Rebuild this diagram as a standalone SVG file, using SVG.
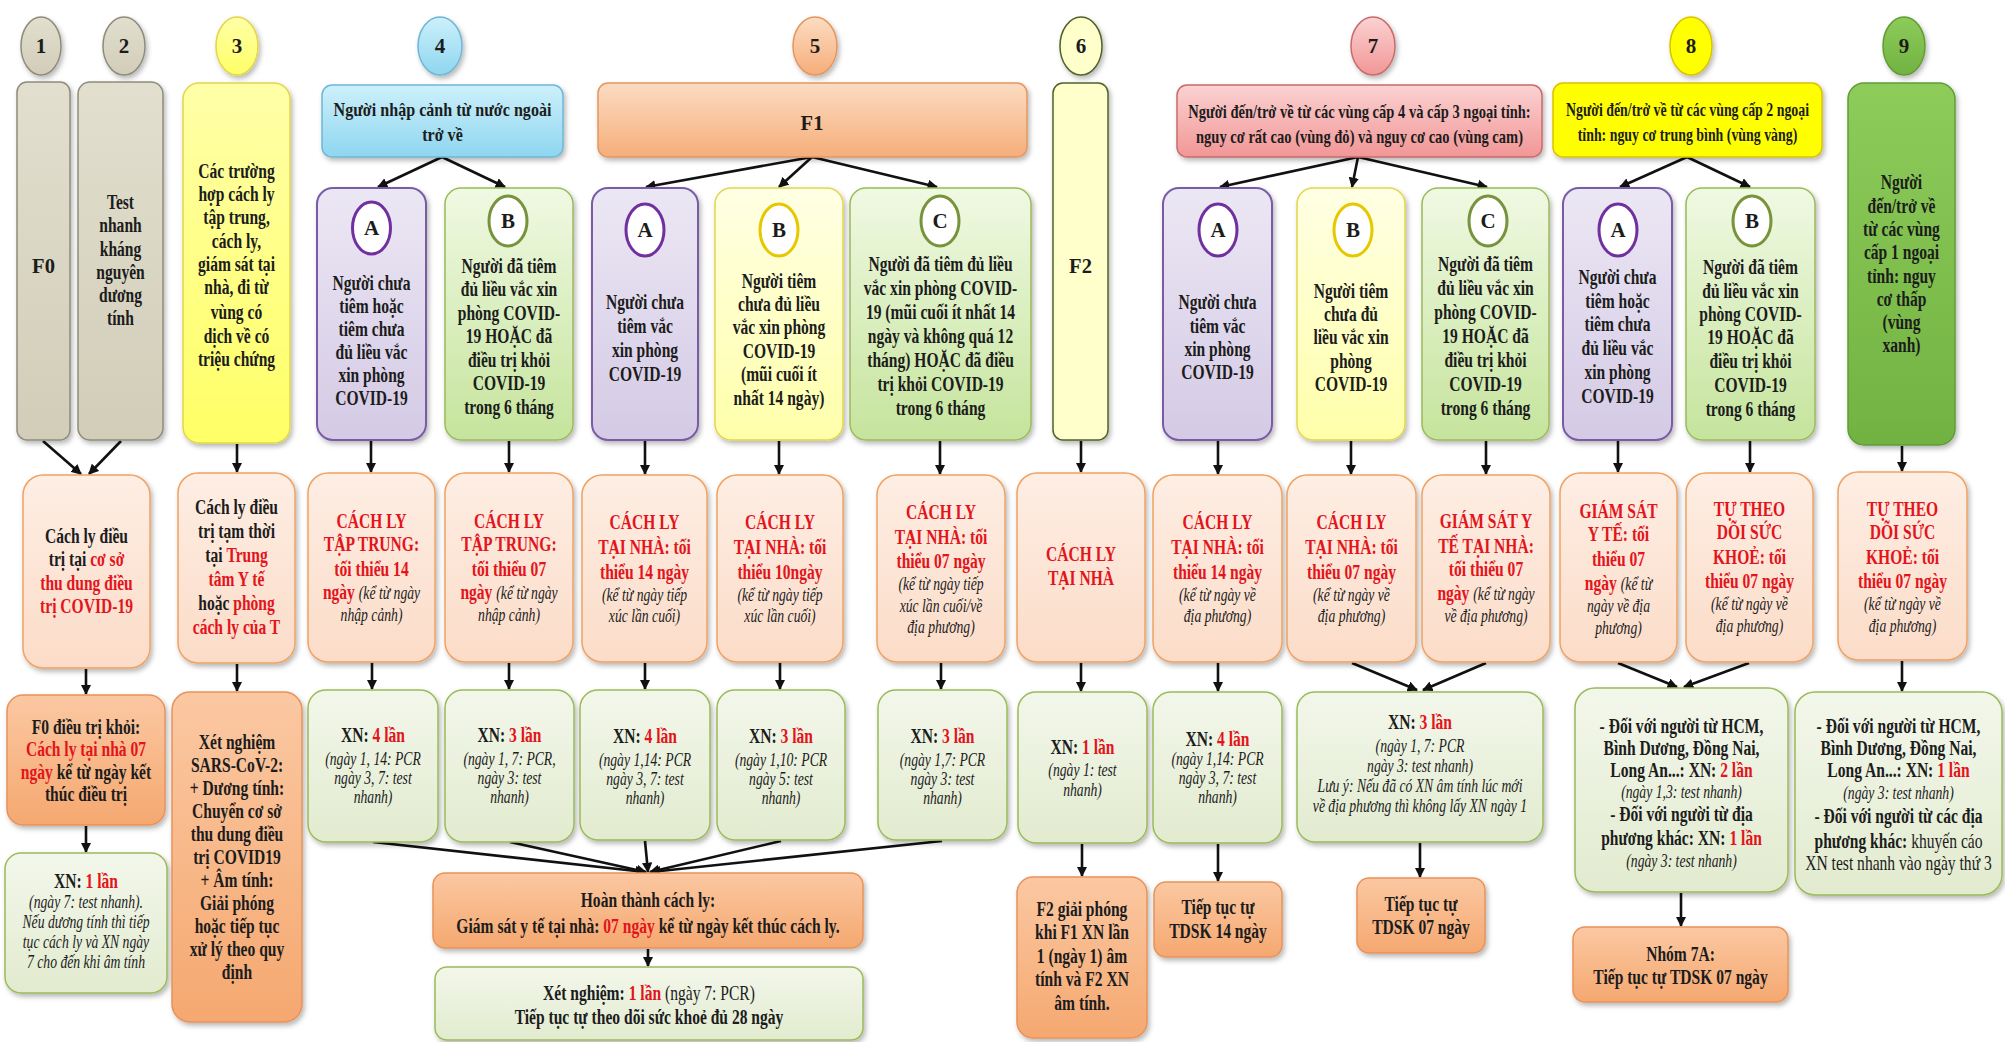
<svg xmlns="http://www.w3.org/2000/svg" width="2005" height="1042" viewBox="0 0 2005 1042">
<style>
.t{font-family:"Liberation Serif","Times New Roman",serif;font-weight:700;font-size:20.5px;fill:#1c1c1c;text-anchor:middle}
.i{font-style:italic;font-weight:400;font-size:18px}
.r{fill:#e3141b}
.n{font-weight:400}
.lt{font-size:21px}
.hd{font-size:18.5px}
.bx{filter:url(#sh)}
.gray{fill:url(#gGray);stroke:#8f8c7c;stroke-width:1.5}
.yel{fill:url(#gYel);stroke:#e2d64a;stroke-width:1.5}
.cyan{fill:url(#gCyan);stroke:#6fb6d6;stroke-width:1.5}
.orh{fill:url(#gOrh);stroke:#e3965e;stroke-width:1.5}
.f2{fill:#ffffcc;stroke:#4f6228;stroke-width:1.5}
.pink{fill:url(#gPink);stroke:#c96b6b;stroke-width:1.5}
.y8{fill:#ffff00;stroke:#d9c200;stroke-width:1.5}
.g9{fill:url(#gG9);stroke:#5f9d35;stroke-width:1.5}
.pu{fill:url(#gPu);stroke:#7a5ca6;stroke-width:2}
.lg{fill:url(#gLg);stroke:#9bbb59;stroke-width:1.5}
.ly{fill:url(#gLy);stroke:#e2d64a;stroke-width:1.5}
.pe{fill:url(#gPe);stroke:#f0a262;stroke-width:1.5}
.xn{fill:url(#gXn);stroke:#9bbb59;stroke-width:1.5}
.or{fill:url(#gOr);stroke:#e8925a;stroke-width:1.5}
.icp{fill:#fff;stroke:#7030a0;stroke-width:3}
.icg{fill:#fff;stroke:#77933c;stroke-width:3}
.icy{fill:#fff;stroke:#e6c800;stroke-width:3}
.cn{stroke:#111;stroke-width:2.6;fill:none;marker-end:url(#ah)}
</style>
<defs>
<marker id="ah" viewBox="0 0 10 10" refX="9" refY="5" markerWidth="4" markerHeight="4" orient="auto" markerUnits="strokeWidth"><path d="M0,0 L10,5 L0,10 z" fill="#111"/></marker>
<filter id="sh" x="-10%" y="-10%" width="130%" height="130%"><feDropShadow dx="2" dy="3" stdDeviation="2.5" flood-color="#000" flood-opacity="0.28"/></filter>
<linearGradient id="gGray" x1="0" y1="0" x2="0" y2="1"><stop offset="0" stop-color="#e2dfcf"/><stop offset="1" stop-color="#d1cdb8"/></linearGradient>
<linearGradient id="gYel" x1="0" y1="0" x2="0" y2="1"><stop offset="0" stop-color="#ffffa8"/><stop offset="1" stop-color="#ffff66"/></linearGradient>
<linearGradient id="gCyan" x1="0" y1="0" x2="0" y2="1"><stop offset="0" stop-color="#cdf0fb"/><stop offset="1" stop-color="#8ed6ef"/></linearGradient>
<linearGradient id="gOrh" x1="0" y1="0" x2="0" y2="1"><stop offset="0" stop-color="#fcdcc2"/><stop offset="1" stop-color="#f6ae7a"/></linearGradient>
<linearGradient id="gPink" x1="0" y1="0" x2="0" y2="1"><stop offset="0" stop-color="#fbd2d2"/><stop offset="1" stop-color="#f29696"/></linearGradient>
<linearGradient id="gG9" x1="0" y1="0" x2="0" y2="1"><stop offset="0" stop-color="#8dcc5a"/><stop offset="1" stop-color="#72b242"/></linearGradient>
<linearGradient id="gPu" x1="0" y1="0" x2="0" y2="1"><stop offset="0" stop-color="#ece7f4"/><stop offset="1" stop-color="#d4cae5"/></linearGradient>
<linearGradient id="gLg" x1="0" y1="0" x2="0" y2="1"><stop offset="0" stop-color="#f0f9e3"/><stop offset="1" stop-color="#c5e49c"/></linearGradient>
<linearGradient id="gLy" x1="0" y1="0" x2="0" y2="1"><stop offset="0" stop-color="#ffffe4"/><stop offset="1" stop-color="#ffffaa"/></linearGradient>
<linearGradient id="gPe" x1="0" y1="0" x2="0" y2="1"><stop offset="0" stop-color="#feeee4"/><stop offset="1" stop-color="#fbdcc8"/></linearGradient>
<linearGradient id="gXn" x1="0" y1="0" x2="0" y2="1"><stop offset="0" stop-color="#f3f7eb"/><stop offset="1" stop-color="#e2ebcf"/></linearGradient>
<linearGradient id="gOr" x1="0" y1="0" x2="0" y2="1"><stop offset="0" stop-color="#fbc8a2"/><stop offset="1" stop-color="#f5a870"/></linearGradient>
</defs>
<rect width="2005" height="1042" fill="#ffffff"/>

<g id="connectors">
<line class="cn" x1="442" y1="157" x2="378" y2="187"/>
<line class="cn" x1="442" y1="157" x2="505" y2="187"/>
<line class="cn" x1="812" y1="157" x2="646" y2="187"/>
<line class="cn" x1="812" y1="157" x2="779" y2="187"/>
<line class="cn" x1="812" y1="157" x2="937" y2="187"/>
<line class="cn" x1="1358" y1="157" x2="1220" y2="187"/>
<line class="cn" x1="1358" y1="157" x2="1352" y2="187"/>
<line class="cn" x1="1358" y1="157" x2="1487" y2="187"/>
<line class="cn" x1="1687" y1="157" x2="1620" y2="187"/>
<line class="cn" x1="1687" y1="157" x2="1750" y2="187"/>
<line class="cn" x1="43" y1="441" x2="81" y2="474"/>
<line class="cn" x1="121" y1="441" x2="89" y2="474"/>
<line class="cn" x1="237" y1="444" x2="237" y2="472"/>
<line class="cn" x1="371" y1="441" x2="371" y2="472"/>
<line class="cn" x1="509" y1="441" x2="509" y2="472"/>
<line class="cn" x1="645" y1="441" x2="645" y2="474"/>
<line class="cn" x1="779" y1="441" x2="779" y2="474"/>
<line class="cn" x1="940" y1="441" x2="940" y2="474"/>
<line class="cn" x1="1081" y1="441" x2="1081" y2="472"/>
<line class="cn" x1="1218" y1="441" x2="1218" y2="474"/>
<line class="cn" x1="1351" y1="441" x2="1351" y2="474"/>
<line class="cn" x1="1486" y1="441" x2="1486" y2="474"/>
<line class="cn" x1="1618" y1="441" x2="1618" y2="472"/>
<line class="cn" x1="1750" y1="441" x2="1750" y2="472"/>
<line class="cn" x1="1902" y1="446" x2="1902" y2="471"/>
<line class="cn" x1="86" y1="669" x2="86" y2="694"/>
<line class="cn" x1="237" y1="664" x2="237" y2="691"/>
<line class="cn" x1="372" y1="663" x2="372" y2="689"/>
<line class="cn" x1="509" y1="663" x2="509" y2="689"/>
<line class="cn" x1="645" y1="663" x2="645" y2="689"/>
<line class="cn" x1="780" y1="663" x2="780" y2="689"/>
<line class="cn" x1="941" y1="663" x2="941" y2="689"/>
<line class="cn" x1="1081" y1="663" x2="1081" y2="691"/>
<line class="cn" x1="1218" y1="663" x2="1218" y2="691"/>
<line class="cn" x1="1352" y1="663" x2="1417" y2="690"/>
<line class="cn" x1="1486" y1="663" x2="1423" y2="690"/>
<line class="cn" x1="1618" y1="663" x2="1677" y2="687"/>
<line class="cn" x1="1749" y1="663" x2="1684" y2="687"/>
<line class="cn" x1="1902" y1="661" x2="1902" y2="691"/>
<line class="cn" x1="86" y1="826" x2="86" y2="852"/>
<line class="cn" x1="373" y1="842" x2="645" y2="872"/>
<line class="cn" x1="510" y1="842" x2="646" y2="872"/>
<line class="cn" x1="645" y1="841" x2="648" y2="872"/>
<line class="cn" x1="781" y1="841" x2="650" y2="872"/>
<line class="cn" x1="942" y1="841" x2="651" y2="872"/>
<line class="cn" x1="648" y1="949" x2="648" y2="966"/>
<line class="cn" x1="1082" y1="844" x2="1082" y2="876"/>
<line class="cn" x1="1218" y1="844" x2="1218" y2="881"/>
<line class="cn" x1="1420" y1="843" x2="1420" y2="877"/>
<line class="cn" x1="1681" y1="893" x2="1681" y2="926"/>
</g>

<g id="num1"><ellipse class="bx gray" cx="41" cy="46" rx="20" ry="29"/><text class="t lt" x="41" y="53">1</text></g>
<g id="num2"><ellipse class="bx gray" cx="124" cy="46" rx="21" ry="29"/><text class="t lt" x="124" y="53">2</text></g>
<g id="num3"><ellipse class="bx yel" cx="237" cy="46" rx="21" ry="29"/><text class="t lt" x="237" y="53">3</text></g>
<g id="num4"><ellipse class="bx cyan" cx="440" cy="46" rx="22" ry="29"/><text class="t lt" x="440" y="53">4</text></g>
<g id="num5"><ellipse class="bx orh" cx="815" cy="46" rx="22" ry="29"/><text class="t lt" x="815" y="53">5</text></g>
<g id="num6"><ellipse class="bx f2" cx="1081" cy="46" rx="21" ry="29"/><text class="t lt" x="1081" y="53">6</text></g>
<g id="num7"><ellipse class="bx pink" cx="1373" cy="46" rx="22" ry="29"/><text class="t lt" x="1373" y="53">7</text></g>
<g id="num8"><ellipse class="bx y8" cx="1691" cy="46" rx="21" ry="29"/><text class="t lt" x="1691" y="53">8</text></g>
<g id="num9"><ellipse class="bx g9" cx="1904" cy="46" rx="21" ry="29"/><text class="t lt" x="1904" y="53">9</text></g>

<g id="n1"><rect class="bx gray" x="17" y="82" width="53" height="358" rx="10"/><text class="t" x="43.5" y="273">F0</text></g>
<g id="n2"><rect class="bx gray" x="78" y="82" width="85" height="358" rx="12"/>
<g class="t" transform="translate(120.5 0) scale(0.76 1)"><text x="0" y="209">Test</text><text x="0" y="232">nhanh</text><text x="0" y="256">kháng</text><text x="0" y="279">nguyên</text><text x="0" y="302">dương</text><text x="0" y="325">tính</text></g></g>
<g id="n3"><rect class="bx yel" x="183" y="83" width="107" height="360" rx="16"/>
<g class="t" transform="translate(236.5 0) scale(0.76 1)"><text x="0" y="178">Các trường</text><text x="0" y="201">hợp cách ly</text><text x="0" y="224">tập trung,</text><text x="0" y="248">cách ly,</text><text x="0" y="271">giám sát tại</text><text x="0" y="294">nhà, đi từ</text><text x="0" y="319">vùng có</text><text x="0" y="343">dịch về có</text><text x="0" y="366">triệu chứng</text></g></g>

<g id="h4"><rect class="bx cyan" x="322" y="85" width="241" height="72" rx="10"/>
<g class="t hd" transform="translate(442.5 0) scale(0.87 1)"><text x="0" y="116">Người nhập cảnh từ nước ngoài</text><text x="0" y="141">trở về</text></g></g>
<g id="n4a"><rect class="bx pu" x="317" y="188" width="109" height="252" rx="16"/><ellipse class="icp" cx="371.5" cy="228" rx="19" ry="26"/><text class="t lt" x="371.5" y="235">A</text>
<g class="t" transform="translate(371.5 0) scale(0.76 1)"><text x="0" y="290">Người chưa</text><text x="0" y="313">tiêm hoặc</text><text x="0" y="336">tiêm chưa</text><text x="0" y="359">đủ liều vắc</text><text x="0" y="382">xin phòng</text><text x="0" y="405">COVID-19</text></g></g>
<g id="n4b"><rect class="bx lg" x="445" y="188" width="128" height="252" rx="16"/><ellipse class="icg" cx="508" cy="221" rx="19" ry="25"/><text class="t lt" x="508" y="228">B</text>
<g class="t" transform="translate(509 0) scale(0.76 1)"><text x="0" y="273">Người đã tiêm</text><text x="0" y="296.5">đủ liều vắc xin</text><text x="0" y="320">phòng COVID-</text><text x="0" y="343.5">19 HOẶC đã</text><text x="0" y="367">điều trị khỏi</text><text x="0" y="390.5">COVID-19</text><text x="0" y="414">trong 6 tháng</text></g></g>

<g id="h5"><rect class="bx orh" x="598" y="83" width="429" height="74" rx="10"/><text class="t" x="812" y="130">F1</text></g>
<g id="n5a"><rect class="bx pu" x="592" y="188" width="106" height="252" rx="16"/><ellipse class="icp" cx="645" cy="230" rx="19" ry="26"/><text class="t lt" x="645" y="237">A</text>
<g class="t" transform="translate(645 0) scale(0.76 1)"><text x="0" y="309">Người chưa</text><text x="0" y="333">tiêm vắc</text><text x="0" y="357">xin phòng</text><text x="0" y="381">COVID-19</text></g></g>
<g id="n5b"><rect class="bx ly" x="715" y="188" width="128" height="252" rx="16"/><ellipse class="icy" cx="779" cy="230" rx="19" ry="26"/><text class="t lt" x="779" y="237">B</text>
<g class="t" transform="translate(779 0) scale(0.76 1)"><text x="0" y="288">Người tiêm</text><text x="0" y="311">chưa đủ liều</text><text x="0" y="334.5">vắc xin phòng</text><text x="0" y="358">COVID-19</text><text x="0" y="381.5">(mũi cuối ít</text><text x="0" y="405">nhất 14 ngày)</text></g></g>
<g id="n5c"><rect class="bx lg" x="850" y="188" width="181" height="252" rx="16"/><ellipse class="icg" cx="940" cy="221" rx="19" ry="25"/><text class="t lt" x="940" y="228">C</text>
<g class="t" transform="translate(940.5 0) scale(0.76 1)"><text x="0" y="271">Người đã tiêm đủ liều</text><text x="0" y="295">vắc xin phòng COVID-</text><text x="0" y="319">19 (mũi cuối ít nhất 14</text><text x="0" y="343">ngày và không quá 12</text><text x="0" y="367">tháng) HOẶC đã điều</text><text x="0" y="391">trị khỏi COVID-19</text><text x="0" y="415">trong 6 tháng</text></g></g>

<g id="n6"><rect class="bx f2" x="1053" y="83" width="55" height="357" rx="10"/><text class="t" x="1080.5" y="273">F2</text></g>

<g id="h7"><rect class="bx pink" x="1177" y="85" width="365" height="72" rx="10"/>
<g class="t hd" transform="translate(1359.5 0) scale(0.785 1)"><text x="0" y="118">Người đến/trở về từ các vùng cấp 4 và cấp 3 ngoại tỉnh:</text><text x="0" y="143">nguy cơ rất cao (vùng đỏ) và nguy cơ cao (vùng cam)</text></g></g>
<g id="n7a"><rect class="bx pu" x="1163" y="188" width="109" height="252" rx="16"/><ellipse class="icp" cx="1218" cy="230" rx="19" ry="26"/><text class="t lt" x="1218" y="237">A</text>
<g class="t" transform="translate(1217.5 0) scale(0.76 1)"><text x="0" y="309">Người chưa</text><text x="0" y="333">tiêm vắc</text><text x="0" y="356">xin phòng</text><text x="0" y="379">COVID-19</text></g></g>
<g id="n7b"><rect class="bx ly" x="1297" y="188" width="108" height="252" rx="16"/><ellipse class="icy" cx="1353" cy="230" rx="19" ry="26"/><text class="t lt" x="1353" y="237">B</text>
<g class="t" transform="translate(1351 0) scale(0.76 1)"><text x="0" y="298">Người tiêm</text><text x="0" y="321">chưa đủ</text><text x="0" y="344">liều vắc xin</text><text x="0" y="368">phòng</text><text x="0" y="391">COVID-19</text></g></g>
<g id="n7c"><rect class="bx lg" x="1422" y="188" width="127" height="252" rx="16"/><ellipse class="icg" cx="1488" cy="221" rx="19" ry="25"/><text class="t lt" x="1488" y="228">C</text>
<g class="t" transform="translate(1485.5 0) scale(0.76 1)"><text x="0" y="271">Người đã tiêm</text><text x="0" y="295">đủ liều vắc xin</text><text x="0" y="319">phòng COVID-</text><text x="0" y="343">19 HOẶC đã</text><text x="0" y="367">điều trị khỏi</text><text x="0" y="391">COVID-19</text><text x="0" y="415">trong 6 tháng</text></g></g>

<g id="h8"><rect class="bx y8" x="1553" y="83" width="269" height="74" rx="10"/>
<g class="t hd" transform="translate(1687.5 0) scale(0.75 1)"><text x="0" y="116">Người đến/trở về từ các vùng cấp 2 ngoại</text><text x="0" y="141">tỉnh: nguy cơ trung bình (vùng vàng)</text></g></g>
<g id="n8a"><rect class="bx pu" x="1563" y="188" width="109" height="252" rx="16"/><ellipse class="icp" cx="1618" cy="230" rx="19" ry="26"/><text class="t lt" x="1618" y="237">A</text>
<g class="t" transform="translate(1617.5 0) scale(0.76 1)"><text x="0" y="284">Người chưa</text><text x="0" y="308">tiêm hoặc</text><text x="0" y="331">tiêm chưa</text><text x="0" y="355">đủ liều vắc</text><text x="0" y="379">xin phòng</text><text x="0" y="403">COVID-19</text></g></g>
<g id="n8b"><rect class="bx lg" x="1686" y="188" width="129" height="252" rx="16"/><ellipse class="icg" cx="1752" cy="221" rx="19" ry="25"/><text class="t lt" x="1752" y="228">B</text>
<g class="t" transform="translate(1750.5 0) scale(0.76 1)"><text x="0" y="274">Người đã tiêm</text><text x="0" y="298">đủ liều vắc xin</text><text x="0" y="321">phòng COVID-</text><text x="0" y="344">19 HOẶC đã</text><text x="0" y="368">điều trị khỏi</text><text x="0" y="392">COVID-19</text><text x="0" y="416">trong 6 tháng</text></g></g>
<g id="n9"><rect class="bx g9" x="1848" y="83" width="107" height="362" rx="16"/>
<g class="t" transform="translate(1901.5 0) scale(0.76 1)"><text x="0" y="189">Người</text><text x="0" y="213">đến/trở về</text><text x="0" y="236">từ các vùng</text><text x="0" y="259">cấp 1 ngoại</text><text x="0" y="283">tỉnh: nguy</text><text x="0" y="306">cơ thấp</text><text x="0" y="329">(vùng</text><text x="0" y="352">xanh)</text></g></g>

<g id="r1"><rect class="bx pe" x="23" y="475" width="127" height="193" rx="20"/>
<g class="t" transform="translate(86.5 0) scale(0.76 1)"><text x="0" y="543">Cách ly điều</text><text x="0" y="566">trị tại <tspan class="r">cơ sở</tspan></text><text x="0" y="590" class="r">thu dung điều</text><text x="0" y="613" class="r">trị COVID-19</text></g></g>
<g id="r3"><rect class="bx pe" x="178" y="473" width="117" height="190" rx="20"/>
<g class="t" transform="translate(236.5 0) scale(0.76 1)"><text x="0" y="514">Cách ly điều</text><text x="0" y="538">trị tạm thời</text><text x="0" y="562">tại <tspan class="r">Trung</tspan></text><text x="0" y="586" class="r">tâm Y tế</text><text x="0" y="610">hoặc <tspan class="r">phòng</tspan></text><text x="0" y="634" class="r">cách ly của T</text></g></g>
<g id="r4a"><rect class="bx pe" x="308" y="473" width="127" height="189" rx="20"/>
<g class="t" transform="translate(371.5 0) scale(0.76 1)"><text x="0" y="528" class="r">CÁCH LY</text><text x="0" y="551" class="r">TẬP TRUNG:</text><text x="0" y="576" class="r">tối thiểu 14</text><text x="0" y="599"><tspan class="r">ngày</tspan> <tspan class="i">(kể từ ngày</tspan></text><text x="0" y="621" class="i">nhập cảnh)</text></g></g>
<g id="r4b"><rect class="bx pe" x="445" y="473" width="128" height="189" rx="20"/>
<g class="t" transform="translate(509 0) scale(0.76 1)"><text x="0" y="528" class="r">CÁCH LY</text><text x="0" y="551" class="r">TẬP TRUNG:</text><text x="0" y="576" class="r">tối thiểu 07</text><text x="0" y="599"><tspan class="r">ngày</tspan> <tspan class="i">(kể từ ngày</tspan></text><text x="0" y="621" class="i">nhập cảnh)</text></g></g>
<g id="r5a"><rect class="bx pe" x="582" y="475" width="125" height="187" rx="20"/>
<g class="t" transform="translate(644.5 0) scale(0.76 1)"><text x="0" y="529" class="r">CÁCH LY</text><text x="0" y="554" class="r">TẠI NHÀ: tối</text><text x="0" y="579" class="r">thiểu 14 ngày</text><text x="0" y="601" class="i">(kể từ ngày tiếp</text><text x="0" y="622" class="i">xúc lần cuối)</text></g></g>
<g id="r5b"><rect class="bx pe" x="717" y="475" width="126" height="187" rx="20"/>
<g class="t" transform="translate(780 0) scale(0.76 1)"><text x="0" y="529" class="r">CÁCH LY</text><text x="0" y="554" class="r">TẠI NHÀ: tối</text><text x="0" y="579" class="r">thiểu 10ngày</text><text x="0" y="601" class="i">(kể từ ngày tiếp</text><text x="0" y="622" class="i">xúc lần cuối)</text></g></g>
<g id="r5c"><rect class="bx pe" x="877" y="475" width="128" height="187" rx="20"/>
<g class="t" transform="translate(941 0) scale(0.76 1)"><text x="0" y="519" class="r">CÁCH LY</text><text x="0" y="544" class="r">TẠI NHÀ: tối</text><text x="0" y="568" class="r">thiểu 07 ngày</text><text x="0" y="590" class="i">(kể từ ngày tiếp</text><text x="0" y="612" class="i">xúc lần cuối/về</text><text x="0" y="633" class="i">địa phương)</text></g></g>
<g id="r6"><rect class="bx pe" x="1017" y="473" width="128" height="189" rx="20"/>
<g class="t" transform="translate(1081 0) scale(0.76 1)"><text x="0" y="561" class="r">CÁCH LY</text><text x="0" y="585" class="r">TẠI NHÀ</text></g></g>
<g id="r7a"><rect class="bx pe" x="1153" y="475" width="129" height="187" rx="20"/>
<g class="t" transform="translate(1217.5 0) scale(0.76 1)"><text x="0" y="529" class="r">CÁCH LY</text><text x="0" y="554" class="r">TẠI NHÀ: tối</text><text x="0" y="579" class="r">thiểu 14 ngày</text><text x="0" y="601" class="i">(kể từ ngày về</text><text x="0" y="622" class="i">địa phương)</text></g></g>
<g id="r7b"><rect class="bx pe" x="1287" y="475" width="129" height="187" rx="20"/>
<g class="t" transform="translate(1351.5 0) scale(0.76 1)"><text x="0" y="529" class="r">CÁCH LY</text><text x="0" y="554" class="r">TẠI NHÀ: tối</text><text x="0" y="579" class="r">thiểu 07 ngày</text><text x="0" y="601" class="i">(kể từ ngày về</text><text x="0" y="622" class="i">địa phương)</text></g></g>
<g id="r7c"><rect class="bx pe" x="1422" y="475" width="128" height="187" rx="20"/>
<g class="t" transform="translate(1486 0) scale(0.76 1)"><text x="0" y="528" class="r">GIÁM SÁT Y</text><text x="0" y="553" class="r">TẾ TẠI NHÀ:</text><text x="0" y="576" class="r">tối thiểu 07</text><text x="0" y="600"><tspan class="r">ngày</tspan> <tspan class="i">(kể từ ngày</tspan></text><text x="0" y="622" class="i">về địa phương)</text></g></g>
<g id="r8a"><rect class="bx pe" x="1560" y="473" width="117" height="189" rx="20"/>
<g class="t" transform="translate(1618.5 0) scale(0.76 1)"><text x="0" y="518" class="r">GIÁM SÁT</text><text x="0" y="541" class="r">Y TẾ:  tối</text><text x="0" y="566" class="r">thiểu 07</text><text x="0" y="590"><tspan class="r">ngày</tspan> <tspan class="i">(kể từ</tspan></text><text x="0" y="612" class="i">ngày về địa</text><text x="0" y="634" class="i">phương)</text></g></g>
<g id="r8b"><rect class="bx pe" x="1686" y="473" width="127" height="189" rx="20"/>
<g class="t" transform="translate(1749.5 0) scale(0.76 1)"><text x="0" y="516" class="r">TỰ THEO</text><text x="0" y="539" class="r">DÕI SỨC</text><text x="0" y="564" class="r">KHOẺ: tối</text><text x="0" y="588" class="r">thiểu 07 ngày</text><text x="0" y="610" class="i">(kể từ ngày về</text><text x="0" y="632" class="i">địa phương)</text></g></g>
<g id="r9"><rect class="bx pe" x="1838" y="472" width="129" height="188" rx="20"/>
<g class="t" transform="translate(1902.5 0) scale(0.76 1)"><text x="0" y="516" class="r">TỰ THEO</text><text x="0" y="539" class="r">DÕI SỨC</text><text x="0" y="564" class="r">KHOẺ: tối</text><text x="0" y="588" class="r">thiểu 07 ngày</text><text x="0" y="610" class="i">(kể từ ngày về</text><text x="0" y="632" class="i">địa phương)</text></g></g>

<g id="s1"><rect class="bx or" x="7" y="695" width="158" height="130" rx="16"/>
<g class="t" transform="translate(86 0) scale(0.76 1)"><text x="0" y="734">F0  điều trị khỏi:</text><text x="0" y="756" class="r">Cách ly tại nhà 07</text><text x="0" y="779"><tspan class="r">ngày</tspan> kể từ ngày kết</text><text x="0" y="801">thúc điều trị</text></g></g>
<g id="t1"><rect class="bx xn" x="5" y="853" width="162" height="140" rx="16"/>
<g class="t" transform="translate(86 0) scale(0.76 1)"><text x="0" y="888">XN: <tspan class="r">1 lần</tspan></text><text x="0" y="908" class="i">(ngày 7: test nhanh).</text><text x="0" y="928" class="i">Nếu dương tính thì tiếp</text><text x="0" y="948" class="i">tục cách ly và XN ngày</text><text x="0" y="968" class="i">7 cho đến khi âm tính</text></g></g>
<g id="s3"><rect class="bx or" x="172" y="692" width="130" height="330" rx="18"/>
<g class="t" transform="translate(237 0) scale(0.76 1)"><text x="0" y="749">Xét nghiệm</text><text x="0" y="772">SARS-CoV-2:</text><text x="0" y="795">+ Dương tính:</text><text x="0" y="818">Chuyển cơ sở</text><text x="0" y="841">thu dung điều</text><text x="0" y="864">trị COVID19</text><text x="0" y="887">+ Âm tính:</text><text x="0" y="910">Giải phóng</text><text x="0" y="933">hoặc tiếp tục</text><text x="0" y="956">xử lý theo quy</text><text x="0" y="979">định</text></g></g>
<g id="s4a"><rect class="bx xn" x="308" y="690" width="130" height="152" rx="18"/>
<g class="t" transform="translate(373 0) scale(0.76 1)"><text x="0" y="742">XN: <tspan class="r">4 lần</tspan></text><text x="0" y="765" class="i">(ngày 1, 14: PCR</text><text x="0" y="784" class="i">ngày 3, 7: test</text><text x="0" y="803" class="i">nhanh)</text></g></g>
<g id="s4b"><rect class="bx xn" x="445" y="690" width="129" height="152" rx="18"/>
<g class="t" transform="translate(509.5 0) scale(0.76 1)"><text x="0" y="742">XN: <tspan class="r">3 lần</tspan></text><text x="0" y="765" class="i">(ngày 1, 7: PCR,</text><text x="0" y="784" class="i">ngày 3: test</text><text x="0" y="803" class="i">nhanh)</text></g></g>
<g id="s5a"><rect class="bx xn" x="580" y="690" width="130" height="150" rx="18"/>
<g class="t" transform="translate(645 0) scale(0.76 1)"><text x="0" y="743">XN: <tspan class="r">4 lần</tspan></text><text x="0" y="766" class="i">(ngày 1,14: PCR</text><text x="0" y="785" class="i">ngày 3, 7: test</text><text x="0" y="804" class="i">nhanh)</text></g></g>
<g id="s5b"><rect class="bx xn" x="717" y="690" width="128" height="150" rx="18"/>
<g class="t" transform="translate(781 0) scale(0.76 1)"><text x="0" y="743">XN: <tspan class="r">3 lần</tspan></text><text x="0" y="766" class="i">(ngày 1,10: PCR</text><text x="0" y="785" class="i">ngày 5: test</text><text x="0" y="804" class="i">nhanh)</text></g></g>
<g id="s5c"><rect class="bx xn" x="878" y="690" width="129" height="150" rx="18"/>
<g class="t" transform="translate(942.5 0) scale(0.76 1)"><text x="0" y="743">XN: <tspan class="r">3 lần</tspan></text><text x="0" y="766" class="i">(ngày 1,7: PCR</text><text x="0" y="785" class="i">ngày 3: test</text><text x="0" y="804" class="i">nhanh)</text></g></g>
<g id="s6"><rect class="bx xn" x="1018" y="692" width="129" height="151" rx="18"/>
<g class="t" transform="translate(1082.5 0) scale(0.76 1)"><text x="0" y="754">XN: <tspan class="r">1 lần</tspan></text><text x="0" y="776" class="i">(ngày 1: test</text><text x="0" y="796" class="i">nhanh)</text></g></g>
<g id="s7a"><rect class="bx xn" x="1153" y="692" width="129" height="151" rx="18"/>
<g class="t" transform="translate(1217.5 0) scale(0.76 1)"><text x="0" y="746">XN: <tspan class="r">4 lần</tspan></text><text x="0" y="765" class="i">(ngày 1,14: PCR</text><text x="0" y="784" class="i">ngày 3, 7: test</text><text x="0" y="803" class="i">nhanh)</text></g></g>
<g id="s7bc"><rect class="bx xn" x="1297" y="692" width="246" height="150" rx="18"/>
<g class="t" transform="translate(1420 0) scale(0.76 1)"><text x="0" y="729">XN: <tspan class="r">3 lần</tspan></text><text x="0" y="752" class="i">(ngày 1, 7: PCR</text><text x="0" y="772" class="i">ngày 3:  test nhanh)</text><text x="0" y="792" class="i">Lưu ý: Nếu đã có XN âm tính lúc mới</text><text x="0" y="812" class="i">về địa phương thì không lấy XN ngày 1</text></g></g>
<g id="s8"><rect class="bx xn" x="1575" y="688" width="213" height="204" rx="20"/>
<g class="t" transform="translate(1681.5 0) scale(0.76 1)"><text x="0" y="733">- Đối với người từ HCM,</text><text x="0" y="755">Bình Dương, Đồng Nai,</text><text x="0" y="777">Long An...: XN: <tspan class="r">2 lần</tspan></text><text x="0" y="798" class="i">(ngày 1,3: test nhanh)</text><text x="0" y="821">- Đối với người từ địa</text><text x="0" y="845">phương khác: XN: <tspan class="r">1 lần</tspan></text><text x="0" y="867" class="i">(ngày 3: test nhanh)</text></g></g>
<g id="s9"><rect class="bx xn" x="1795" y="692" width="207" height="203" rx="20"/>
<g class="t" transform="translate(1898.5 0) scale(0.76 1)"><text x="0" y="733">- Đối với người từ HCM,</text><text x="0" y="755">Bình Dương, Đồng Nai,</text><text x="0" y="777">Long An...: XN: <tspan class="r">1 lần</tspan></text><text x="0" y="799" class="i">(ngày 3: test nhanh)</text><text x="0" y="823">- Đối với người từ các địa</text><text x="0" y="848">phương khác: <tspan class="n">khuyến cáo</tspan></text><text x="0" y="870" class="n">XN test nhanh vào ngày thứ 3</text></g></g>

<g id="done"><rect class="bx or" x="433" y="873" width="430" height="75" rx="12"/>
<g class="t" transform="translate(648 0) scale(0.76 1)"><text x="0" y="907">Hoàn thành cách ly:</text><text x="0" y="933">Giám sát y tế tại nhà: <tspan class="r">07 ngày</tspan> kể từ ngày kết thúc cách ly.</text></g></g>
<g id="final"><rect class="bx xn" x="435" y="967" width="428" height="73" rx="12"/>
<g class="t" transform="translate(649 0) scale(0.76 1)"><text x="0" y="1000">Xét nghiệm: <tspan class="r">1 lần</tspan> <tspan class="n">(ngày 7: PCR)</tspan></text><text x="0" y="1024">Tiếp tục tự theo dõi sức khoẻ đủ 28 ngày</text></g></g>
<g id="t6"><rect class="bx or" x="1017" y="877" width="130" height="161" rx="16"/>
<g class="t" transform="translate(1082 0) scale(0.76 1)"><text x="0" y="916">F2  giải phóng</text><text x="0" y="939">khi F1 XN lần</text><text x="0" y="963">1 (ngày 1) âm</text><text x="0" y="986">tính và F2 XN</text><text x="0" y="1010">âm tính.</text></g></g>
<g id="t7a"><rect class="bx or" x="1154" y="882" width="128" height="75" rx="12"/>
<g class="t" transform="translate(1218 0) scale(0.76 1)"><text x="0" y="914">Tiếp tục tự</text><text x="0" y="938">TDSK  14 ngày</text></g></g>
<g id="t7bc"><rect class="bx or" x="1357" y="878" width="128" height="75" rx="12"/>
<g class="t" transform="translate(1421 0) scale(0.76 1)"><text x="0" y="911">Tiếp tục tự</text><text x="0" y="934">TDSK  07 ngày</text></g></g>
<g id="t8"><rect class="bx or" x="1573" y="927" width="215" height="75" rx="12"/>
<g class="t" transform="translate(1680.5 0) scale(0.76 1)"><text x="0" y="961">Nhóm 7A:</text><text x="0" y="984">Tiếp tục tự TDSK  07 ngày</text></g></g>
</svg>
